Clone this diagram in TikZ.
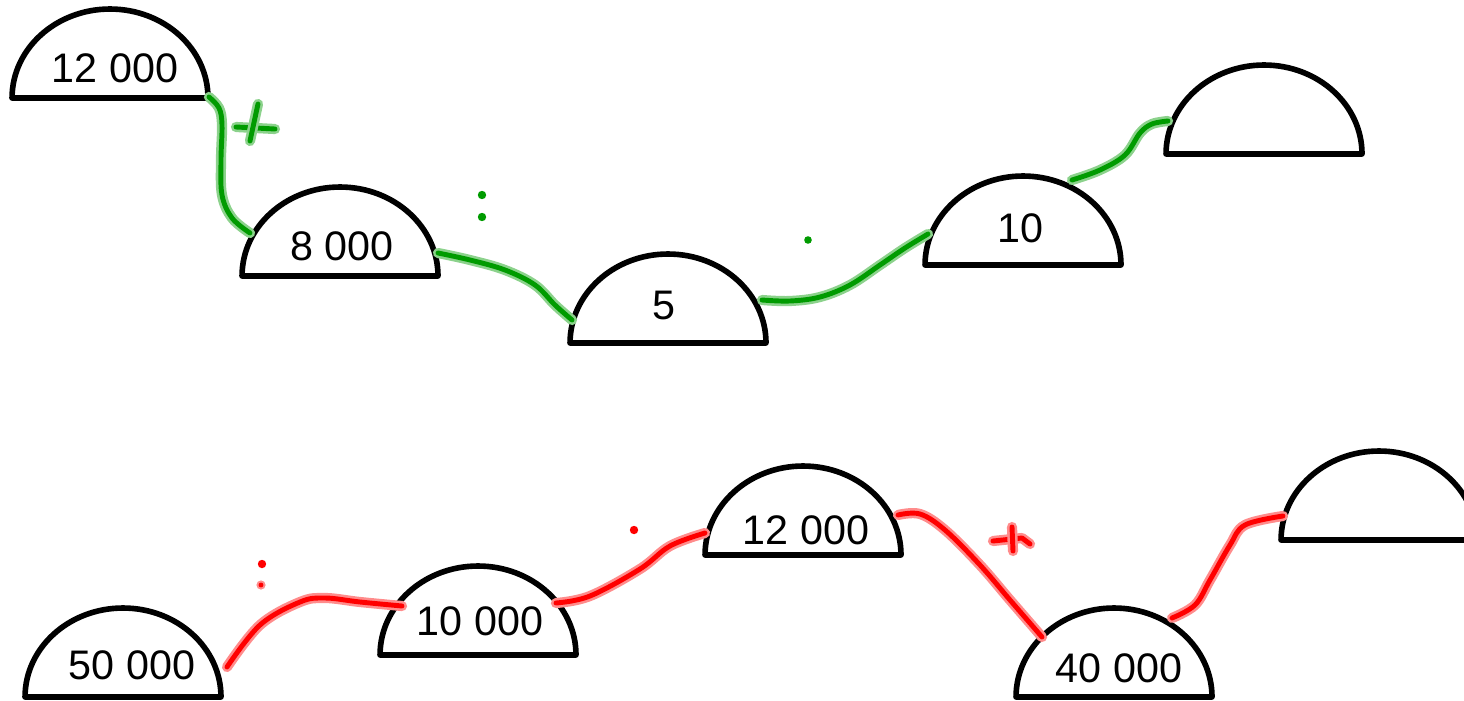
\documentclass[tikz,border=0pt]{standalone}
\usepackage{fontspec}
\setmainfont{Liberation Sans}
\definecolor{pengreen}{RGB}{0,155,0}
\definecolor{penred}{RGB}{255,0,0}
\tikzset{
  dome/.style={line width=3.2pt, line join=round, fill=white},
  numlabel/.style={font=\fontsize{23.5}{27}\selectfont, inner sep=0pt},
  greenhalo/.style={pengreen!45, line width=5.8pt, line cap=round, line join=round},
  greenpen/.style={pengreen, line width=2.8pt, line cap=round, line join=round},
  redhalo/.style={penred!45, line width=5.8pt, line cap=round, line join=round},
  redpen/.style={penred, line width=2.8pt, line cap=round, line join=round}
}
% half dome with base centre (#1,#2)
\newcommand{\halfdome}[2]{%
  \draw[dome] (#1,#2) ++(-98,0) -- ++(196,0)
    arc[start angle=0, end angle=180, x radius=1.96cm, y radius=1.78cm] -- cycle;}
\newcommand{\greenstroke}[1]{%
  \draw[greenhalo] #1; \draw[greenpen] #1;}
\newcommand{\redstroke}[1]{%
  \draw[redhalo] #1; \draw[redpen] #1;}
\begin{document}
\begin{tikzpicture}[x=0.02cm, y=-0.02cm]
  \useasboundingbox (0,0) rectangle (1464,700);

  % Upper row (green)
  \halfdome{110}{98}
  \halfdome{340}{276}
  \halfdome{668}{343}
  \halfdome{1023}{265}
  \halfdome{1264}{154}

  \node[numlabel] (ga) at (115,68) {12 000};
  \node[numlabel] (gb) at (342,246) {8 000};
  \node[numlabel] (gc) at (664,305) {5};
  \node[numlabel] (gd) at (1020,228) {10};

  \coordinate (ga-out) at (209,97);
  \coordinate (gb-in) at (250,233);
  \coordinate (gb-out) at (438,253);
  \coordinate (gc-in) at (572,320);
  \coordinate (gc-out) at (762,300);
  \coordinate (gd-in) at (928,234);
  \coordinate (gd-out) at (1072,180);
  \coordinate (ge-in) at (1168,121);

  \greenstroke{plot[smooth, tension=0.6] coordinates {(ga-out) (219,108) (222,125) (221,160) (222,195) (232,218) (gb-in)}}
  \greenstroke{plot[smooth, tension=0.6] coordinates {(gb-out) (470,260) (505,270) (535,285) (555,305) (gc-in)}}
  \greenstroke{plot[smooth, tension=0.6] coordinates {(gc-out) (790,301) (820,297) (850,285) (880,265) (905,248) (gd-in)}}
  \greenstroke{plot[smooth, tension=0.6] coordinates {(gd-out) (1100,170) (1125,155) (1140,133) (1152,124) (ge-in)}}

  % Operation marks (green)
  \greenstroke{(236,127) -- (275,129)}
  \greenstroke{(258,104) -- (250,141)}
  \fill[pengreen] (482,195) circle (4.2);
  \fill[pengreen] (482,217) circle (4.2);
  \fill[pengreen] (808,240) circle (3.8);

  % Lower row (red)
  \halfdome{123}{697}
  \halfdome{478}{655}
  \halfdome{803}{555}
  \halfdome{1114}{697}
  \halfdome{1379}{540}

  \node[numlabel] (ra) at (132,665) {50 000};
  \node[numlabel] (rb) at (480,621) {10 000};
  \node[numlabel] (rc) at (806,530) {12 000};
  \node[numlabel] (rd) at (1119,668) {40 000};

  \coordinate (ra-out) at (227,667);
  \coordinate (rb-in) at (402,606);
  \coordinate (rb-out) at (556,603);
  \coordinate (rc-in) at (705,533);
  \coordinate (rc-out) at (898,515);
  \coordinate (rd-in) at (1042,637);
  \coordinate (rd-out) at (1172,618);
  \coordinate (re-in) at (1283,516);

  \redstroke{plot[smooth, tension=0.6] coordinates {(ra-out) (260,625) (300,602) (325,598) (360,602) (rb-in)}}
  \redstroke{plot[smooth, tension=0.6] coordinates {(rb-out) (590,596) (640,569) (670,546) (rc-in)}}
  \redstroke{plot[smooth, tension=0.6] coordinates {(rc-out) (920,514) (945,530) (980,565) (1010,600) (rd-in)}}
  \redstroke{plot[smooth, tension=0.6] coordinates {(rd-out) (1195,605) (1210,580) (1230,545) (1245,525) (re-in)}}

  % Operation marks (red)
  \redstroke{(993,541) -- (1022,538) -- (1030,544)}
  \redstroke{(1012,527) -- (1013,551)}
  \fill[penred] (262,564) circle (4.2);
  \fill[penred!45] (261,585) circle (4.6);
  \fill[penred] (261,585) circle (2.4);
  \fill[penred] (634,530) circle (4.2);
\end{tikzpicture}
\end{document}
